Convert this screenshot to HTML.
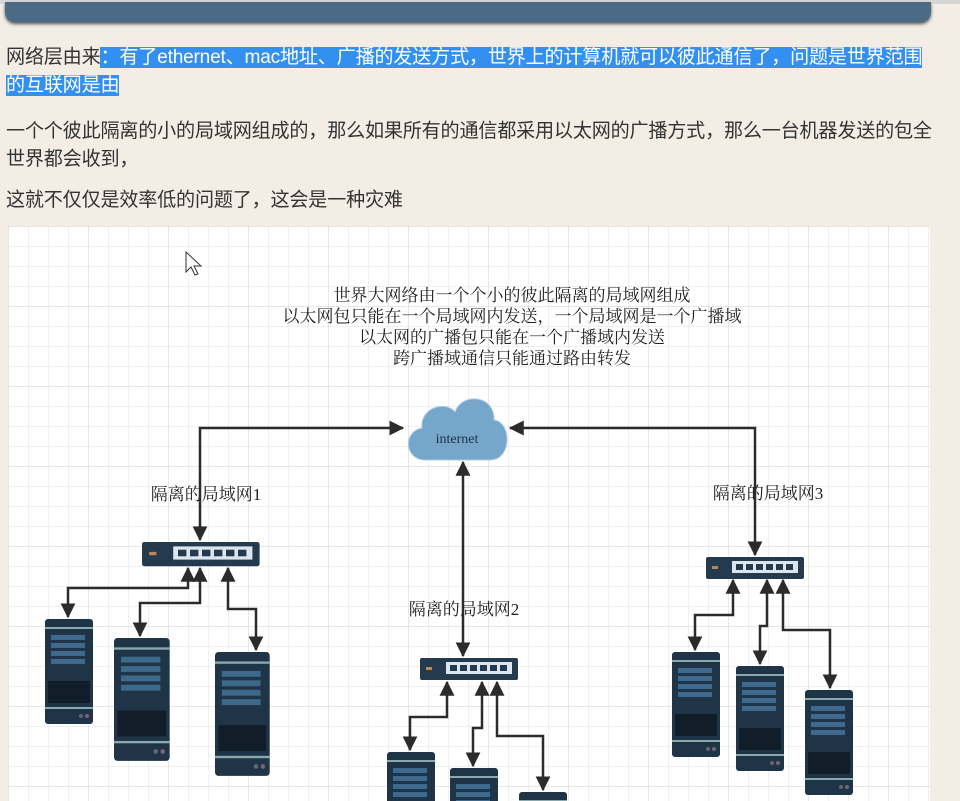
<!DOCTYPE html><html><head><meta charset="utf-8"><style>
html,body{margin:0;width:960px;height:801px;overflow:hidden}
body{background:#f3ede5;font-family:"Liberation Sans","Noto Sans CJK SC",sans-serif;position:relative}
.t{position:absolute;left:6px;font-size:19.1px;color:#333;white-space:nowrap;letter-spacing:-0.2px}
.hl{background:#3390f0;color:#fff}
svg{display:block}
</style></head><body>
<div style="position:absolute;left:0;top:0;width:960px;height:4px;background:#d6d6d6"></div>
<div style="position:absolute;left:5px;top:2px;width:926px;height:20px;background:#4a6a86;border-radius:0 0 10px 10px;box-shadow:0 2px 3px #555"></div>
<div class="t" style="top:41px">网络层由来<span class="hl">：有了ethernet、mac地址、广播的发送方式，世界上的计算机就可以彼此通信了，问题是世界范围</span></div>
<div class="t" style="top:69px"><span class="hl">的互联网是由</span></div>
<div class="t" style="top:115px">一个个彼此隔离的小的局域网组成的，那么如果所有的通信都采用以太网的广播方式，那么一台机器发送的包全</div>
<div class="t" style="top:143px">世界都会收到，</div>
<div class="t" style="top:184px">这就不仅仅是效率低的问题了，这会是一种灾难</div>
<svg style="position:absolute;left:0;top:0" width="960" height="801">
<defs>
<pattern id="g" width="20" height="20" patternUnits="userSpaceOnUse" x="8" y="226"><path d="M20 0H0V20" fill="none" stroke="#e2e2e2" stroke-width="1"/></pattern>
<pattern id="G" width="80" height="80" patternUnits="userSpaceOnUse" x="8" y="226"><path d="M80 0H0V80" fill="none" stroke="#cfcfcf" stroke-width="1"/></pattern>
<marker id="a" markerWidth="6" markerHeight="6" refX="5.5" refY="3" orient="auto-start-reverse" markerUnits="strokeWidth"><path d="M0,0L6,3L0,6z" fill="#2b2b2b"/></marker>
<g id="srv"><rect x="0" y="0" width="48" height="105" rx="3" fill="#1f3446"/><rect x="0" y="8" width="48" height="2" fill="#8aa"/><rect x="6" y="16" width="34" height="5" fill="#3d6a8c"/><rect x="6" y="24" width="34" height="5" fill="#3d6a8c"/><rect x="6" y="32" width="34" height="5" fill="#3d6a8c"/><rect x="6" y="40" width="34" height="5" fill="#3d6a8c"/><rect x="3" y="62" width="42" height="22" fill="#111e29"/><rect x="0" y="88" width="48" height="2" fill="#8aa"/><circle cx="36" cy="97" r="2" fill="#667"/><circle cx="42" cy="97" r="2" fill="#767"/></g>
<g id="sw"><rect x="0" y="0" width="98" height="22" rx="2" fill="#243a4e"/><rect x="26" y="4" width="66" height="12" fill="#dde6ee"/><g fill="#243a4e"><rect x="30" y="7" width="7" height="6"/><rect x="40" y="7" width="7" height="6"/><rect x="50" y="7" width="7" height="6"/><rect x="60" y="7" width="7" height="6"/><rect x="70" y="7" width="7" height="6"/><rect x="80" y="7" width="7" height="6"/></g><rect x="6" y="9" width="6" height="3" fill="#b85"/></g>
</defs>
<rect x="8" y="226" width="922" height="575" fill="#fff"/>
<rect x="8" y="226" width="922" height="575" fill="url(#g)"/>
<rect x="8" y="226" width="922" height="575" fill="url(#G)"/>
<g font-family="Liberation Serif,'Noto Serif CJK SC',serif" font-size="17" fill="#222" text-anchor="middle">
<text x="512" y="301">世界大网络由一个个小的彼此隔离的局域网组成</text>
<text x="512" y="322">以太网包只能在一个局域网内发送，一个局域网是一个广播域</text>
<text x="512" y="343">以太网的广播包只能在一个广播域内发送</text>
<text x="512" y="364">跨广播域通信只能通过路由转发</text>
<text x="206" y="500">隔离的局域网1</text>
<text x="464" y="615">隔离的局域网2</text>
<text x="768" y="499">隔离的局域网3</text>
</g>
<path d="M425,460 C405,460 402,432 422,428 C420,408 445,400 455,412 C462,392 495,395 494,420 C512,422 512,460 490,460Z" fill="#77a6cb" stroke="#a9cbe4"/>
<text x="457" y="443" font-family="Liberation Serif,serif" font-size="14" fill="#234" text-anchor="middle">internet</text>
<g stroke="#2b2b2b" stroke-width="2.5" fill="none" marker-end="url(#a)" marker-start="url(#a)">
<path d="M200,540V428H403"/>
<path d="M463,462V656"/>
<path d="M510,428H755V555"/>
<path d="M188,568V588H68V617"/>
<path d="M200,568V603H140V636"/>
<path d="M228,568V609H256V650"/>
<path d="M733,580V615H695V650"/>
<path d="M767,580V626H760V664"/>
<path d="M783,580V630H830V688"/>
<path d="M447,682V717H410V750"/>
<path d="M482,682V728H473V766"/>
<path d="M497,682V736H543V790"/>
</g>
<use href="#sw" transform="translate(142,542) scale(1.2,1.1)"/>
<use href="#sw" x="420" y="658"/>
<use href="#sw" x="706" y="557"/>
<use href="#srv" x="45" y="619"/>
<use href="#srv" transform="translate(114,638) scale(1.16,1.17)"/>
<use href="#srv" transform="translate(215,652) scale(1.14,1.18)"/>
<use href="#srv" x="387" y="752"/>
<use href="#srv" x="450" y="768"/>
<use href="#srv" x="519" y="792"/>
<use href="#srv" x="672" y="652"/>
<use href="#srv" x="736" y="666"/>
<use href="#srv" x="805" y="690"/>
<path d="M186,252v20l5,-5 4,8 3,-1 -4,-8 7,0z" fill="#fff" stroke="#333"/>
</svg>
</body></html>
